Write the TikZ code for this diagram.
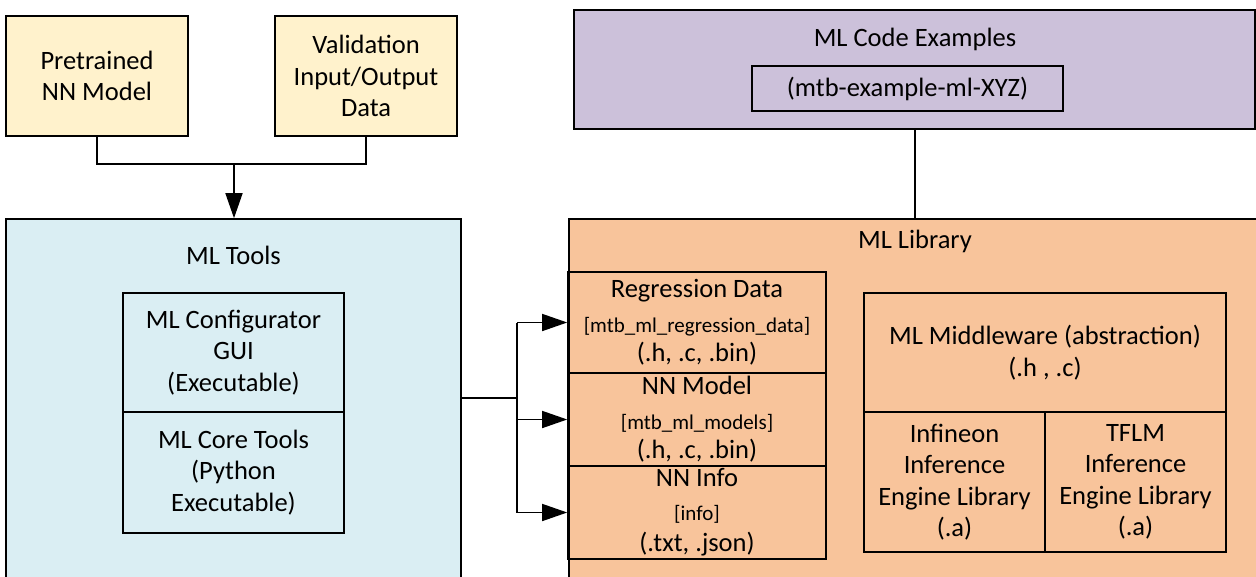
\documentclass[tikz,border=0pt]{standalone}
\usepackage{fontspec}
\setmainfont{Carlito}
\usetikzlibrary{arrows.meta,calc}
\definecolor{cyel}{HTML}{FFF2CC}
\definecolor{cblue}{HTML}{DAEEF3}
\definecolor{cpurp}{HTML}{CCC1DA}
\definecolor{corange}{HTML}{F8C49B}
\newcommand{\smallf}{\fontsize{21}{24}\selectfont}
\begin{document}
\begin{tikzpicture}[x=1pt,y=-1pt,
  box/.style={draw=black,line width=1.6pt,inner sep=0pt,align=center,
    font=\fontsize{26.5}{31.5}\selectfont},
  lbl/.style={inner sep=0pt,font=\fontsize{26.5}{31.5}\selectfont},
  conn/.style={draw=black,line width=1.5pt},
  arr/.style={conn,-{Triangle[length=25pt,width=17pt]}}]
\useasboundingbox (0,0) rectangle (1256,576);
\clip (0,0) rectangle (1256,576);
\fill[white] (0,0) rectangle (1256,576);
% top inputs
\node[box,fill=cyel,minimum width=182,minimum height=120] (pre) at (97,76) {Pretrained\\NN Model};
\node[box,fill=cyel,minimum width=182,minimum height=120] (val) at (366,76) {Validation\\Input/Output\\Data};
% ML Tools
\node[box,fill=cblue,minimum width=455,minimum height=400] (tools) at (233.5,419) {};
\node[lbl] (toolsT) at (233.5,255) {ML Tools};
\node[box,minimum width=221,minimum height=119] (gui) at (233.5,352.5) {ML Configurator\\GUI\\(Executable)};
\node[box,minimum width=221,minimum height=121] (core) at (233.5,472.5) {ML Core Tools\\(Python\\Executable)};
% ML Code Examples
\node[box,fill=cpurp,minimum width=681,minimum height=119] (code) at (914.5,69.5) {};
\node[lbl] (codeT) at (915,39) {ML Code Examples};
\node[box,minimum width=311,minimum height=45] (codeI) at (907.5,88.5) {(mtb-example-ml-XYZ)};
% ML Library
\node[box,fill=corange,minimum width=720,minimum height=400,anchor=north west] (lib) at (568,218) {};
\node[lbl] (libT) at (915,241) {ML Library};
\node[box,minimum width=258,minimum height=101] (reg) at (697,322.5)
  {Regression Data\\[3pt]{\smallf [mtb\_ml\_regression\_data]}\\[-2pt](.h, .c, .bin)};
\node[box,minimum width=258,minimum height=93] (nnm) at (697,419.5)
  {NN Model\\[3pt]{\smallf [mtb\_ml\_models]}\\[-2pt](.h, .c, .bin)};
\node[box,minimum width=258,minimum height=93] (nni) at (697,512.5)
  {NN Info\\[2pt]{\smallf [info]}\\[0pt](.txt, .json)};
\node[box,minimum width=362,minimum height=119] (mw) at (1045,352.5) {ML Middleware (abstraction)\\(.h , .c)};
\node[box,minimum width=181,minimum height=140] (ifx) at (954.5,482) {Infineon\\Inference\\Engine Library\\(.a)};
\node[box,minimum width=181,minimum height=140] (tflm) at (1135.5,482) {TFLM\\Inference\\Engine Library\\(.a)};
% connectors
\coordinate (j) at (234,164);
\draw[conn] (pre.south) |- (j);
\draw[conn] (val.south) |- (j);
\draw[arr] (j) -- (tools.north -| j);
\draw[conn] (code.south -| codeT) -- (lib.north -| codeT);
\coordinate (split) at (517,398);
\draw[conn] (tools.east |- split) -- (split);
\draw[conn] (split |- reg) -- (split |- nni);
\draw[arr] (split |- reg) -- (reg.west);
\draw[arr] (split |- nnm) -- (nnm.west);
\draw[arr] (split |- nni) -- (nni.west);
\end{tikzpicture}
\end{document}
